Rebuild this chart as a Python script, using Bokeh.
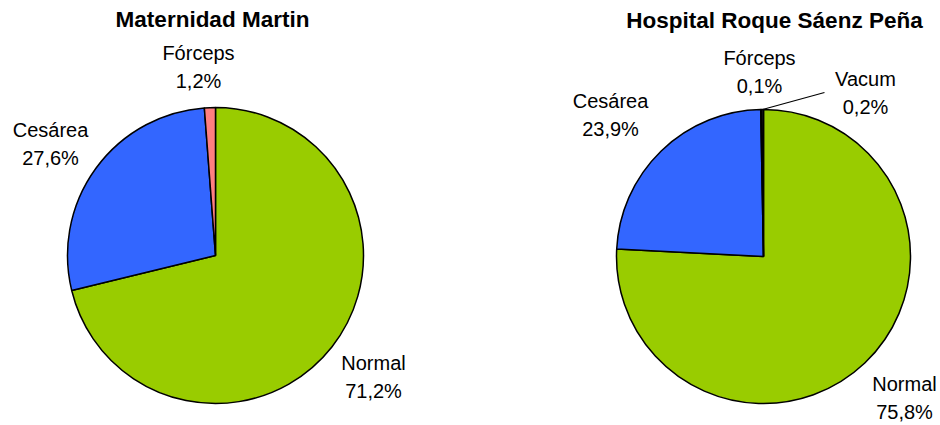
import math
from bokeh.plotting import figure
from bokeh.models import Range1d, ColumnDataSource
from bokeh.core.properties import value
from bokeh.embed import file_html
from bokeh.resources import INLINE

# ---- data ----
titles = ["Maternidad Martin", "Hospital Roque Sáenz Peña"]
cats_left = ["Normal", "Cesárea", "Fórceps"]
vals_left = [71.2, 27.6, 1.2]
cats_right = ["Normal", "Cesárea", "Fórceps", "Vacum"]
vals_right = [75.8, 23.9, 0.1, 0.2]
colors_left = ["#99CC00", "#3366FF", "#FF8080"]
colors_right = ["#99CC00", "#3366FF", "#FF8080", "#333333"]

# ---- layout (image pixel coords) ----
W, H = 940, 425
def Y(img_y):
    return H - img_y

pies = [
    dict(cx=215, cy=255, r=148, title_xy=(212, 19),
         label_xy=[(373, 362), (50, 129), (198, 52)]),
    dict(cx=763, cy=256, r=147, title_xy=(774, 20),
         label_xy=[(904, 383), (610, 100), (759, 57), (865, 78)]),
]

p = figure(width=W, height=H, output_backend="svg", toolbar_location=None,
           x_range=Range1d(0, W), y_range=Range1d(0, H),
           min_border=0, min_border_left=0, min_border_right=0,
           min_border_top=0, min_border_bottom=0)
p.axis.visible = False
p.grid.visible = False
p.outline_line_color = None
p.background_fill_color = "white"
p.border_fill_color = "white"

FONT = "Liberation Sans"

def fmt(v):
    return ("%.1f" % v).replace(".", ",") + "%"

for pie, cats, vals, cols, title in zip(pies, [cats_left, cats_right],
                                        [vals_left, vals_right],
                                        [colors_left, colors_right], titles):
    total = sum(vals)
    starts, ends = [], []
    acc = 0.0
    for v in vals:
        starts.append(math.pi / 2 - acc / total * 2 * math.pi)
        acc += v
        ends.append(math.pi / 2 - acc / total * 2 * math.pi)
    src = ColumnDataSource(dict(x=[pie["cx"]] * len(vals), y=[Y(pie["cy"])] * len(vals),
                                start=starts, end=ends, color=cols))
    p.wedge(x="x", y="y", radius=pie["r"], radius_units="screen",
            start_angle="start", end_angle="end", direction="clock",
            fill_color="color", line_color="black", line_width=1.5, source=src)

    # labels
    lx = [xy[0] for xy in pie["label_xy"]]
    ly1 = [Y(xy[1]) for xy in pie["label_xy"]]
    ly2 = [Y(xy[1] + 28) for xy in pie["label_xy"]]
    p.text(x=lx, y=ly1, text=cats, text_font=value(FONT), text_font_size="20px",
           text_align="center", text_baseline="middle", text_color="black")
    p.text(x=lx, y=ly2, text=[fmt(v) for v in vals], text_font=value(FONT),
           text_font_size="20px", text_align="center", text_baseline="middle",
           text_color="black")
    # title
    p.text(x=[pie["title_xy"][0]], y=[Y(pie["title_xy"][1])], text=[title],
           text_font=value(FONT), text_font_size="22.5px", text_font_style="bold",
           text_align="center", text_baseline="middle", text_color="black")

# leader line for Vacum
pr = pies[1]
mid = (math.pi / 2) - (sum(vals_right[:3]) + vals_right[3] / 2) / sum(vals_right) * 2 * math.pi
sx = pr["cx"] + pr["r"] * math.cos(mid)
sy = Y(pr["cy"]) + pr["r"] * math.sin(mid)
p.line(x=[sx, 824], y=[sy, Y(92)], line_color="black", line_width=1.2)

open("out.html", "w").write(file_html(p, INLINE))
